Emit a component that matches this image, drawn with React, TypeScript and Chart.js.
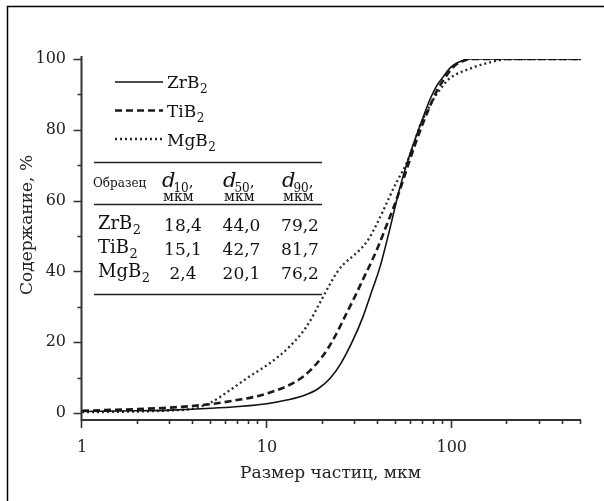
import React, { useEffect, useRef } from "react";
import { Chart, registerables } from "chart.js";

Chart.register(...registerables);

const FONT = '"DejaVu Serif", serif';

// Particle size, µm (x) and cumulative content, % (y)
const zrSizes = [1, 2, 3, 5, 7, 10, 13, 16, 19, 22, 25, 29, 33, 37, 41, 46, 52, 58, 64, 70, 76, 83, 90, 98, 106, 115, 125, 200, 300, 500];
const zrValues = [0.4, 0.6, 0.8, 1.3, 1.8, 2.6, 3.7, 5.0, 6.9, 9.8, 13.8, 20.2, 27.0, 34.5, 41.4, 51.5, 63.0, 71.5, 78.0, 83.5, 88.4, 92.5, 95.0, 97.5, 98.8, 99.6, 100, 100, 100, 100];

const tiSizes = [1, 2, 3, 5, 7, 9, 11, 13, 15, 17, 20, 23, 27, 30, 33, 37, 40, 44, 48, 52, 58, 64, 70, 76, 83, 90, 98, 106, 115, 125, 200, 300, 500];
const tiValues = [0.6, 1.1, 1.5, 2.5, 3.7, 4.8, 6.2, 7.7, 9.5, 11.8, 16.0, 21.0, 28.2, 33.0, 37.6, 43.0, 47.0, 52.5, 57.5, 62.5, 70.0, 76.5, 82.0, 86.5, 91.0, 94.0, 96.7, 98.5, 99.4, 100, 100, 100, 100];

const mgSizes = [1, 2, 3, 4, 5, 6.3, 8, 10.4, 13.3, 16.4, 19.3, 22, 24, 26, 29, 32, 35, 38, 42, 46, 51, 57, 62, 67, 73, 79, 86, 94, 105, 120, 137, 154, 175, 200, 300, 500];
const mgValues = [0.2, 0.4, 0.7, 1.2, 3.0, 6.4, 10.2, 14.1, 18.8, 24.4, 31.0, 36.5, 39.8, 42.0, 44.2, 46.2, 48.6, 51.9, 56.5, 61.0, 65.8, 70.6, 75.5, 80.9, 85.0, 88.4, 91.2, 93.8, 95.6, 96.9, 98.0, 98.8, 99.5, 100, 100, 100];

const xLabelTicks = [1, 10, 100];
const xMinorTicks = [2, 3, 4, 5, 6, 7, 8, 9, 20, 30, 40, 50, 60, 70, 80, 90, 200, 300, 400, 500];
const yLabelTicks = [0, 20, 40, 60, 80, 100];
const yMinorTicks = [10, 30, 50, 70, 90];

const seriesBase = ["ZrB", "TiB", "MgB"];
const seriesSub = ["2", "2", "2"];
const d10Values = ["18,4", "15,1", "2,4"];
const d50Values = ["44,0", "42,7", "20,1"];
const d90Values = ["79,2", "81,7", "76,2"];
const headerSubs = ["10", "50", "90"];

const xTitle = "Размер частиц, мкм";
const yTitle = "Содержание, %";
const sampleHeader = "Образец";
const unitText = "мкм";

const dashStyles: number[][] = [[], [7, 4], [2, 3]];
const widths = [1.6, 2.6, 2.3];
const colors = ["#111", "#1a1a1a", "#2a2a2a"];

function toPoints(xs: number[], ys: number[]) {
  return xs.map((x, i) => ({ x, y: ys[i] }));
}

function drawSub(ctx: CanvasRenderingContext2D, x: number, y: number, base: string, sub: string, size: number, subSize: number, shift: number) {
  ctx.font = `${size}px ${FONT}`;
  ctx.textAlign = "left";
  ctx.textBaseline = "alphabetic";
  ctx.fillText(base, x, y);
  const w = ctx.measureText(base).width;
  ctx.font = `${subSize}px ${FONT}`;
  ctx.fillText(sub, x + w + 0.5, y + shift);
  return w + 0.5 + ctx.measureText(sub).width;
}

const decor = {
  id: "decor",
  beforeDraw(chart: any) {
    const ctx = chart.ctx;
    ctx.save();
    ctx.fillStyle = "#fff";
    ctx.fillRect(0, 0, chart.width, chart.height);
    ctx.restore();
  },
  afterDraw(chart: any) {
    const ctx: CanvasRenderingContext2D = chart.ctx;
    const { left, right, top, bottom } = chart.chartArea;
    const xs = chart.scales.x;
    const ys = chart.scales.y;
    ctx.save();
    // outer frame (top and left edges visible)
    ctx.strokeStyle = "#000";
    ctx.lineWidth = 1.5;
    ctx.beginPath();
    ctx.moveTo(7.5, chart.height);
    ctx.lineTo(7.5, 6.5);
    ctx.lineTo(chart.width, 6.5);
    ctx.stroke();

    // axes
    ctx.strokeStyle = "#333";
    ctx.lineWidth = 2;
    const ax = left - 0.5;
    ctx.beginPath();
    ctx.moveTo(ax, top - 3);
    ctx.lineTo(ax, bottom);
    ctx.lineTo(right, bottom);
    ctx.stroke();
    ctx.lineWidth = 1.6;
    ctx.beginPath();
    yLabelTicks.forEach((v) => {
      const py = Math.round(ys.getPixelForValue(v)) + 0.5;
      ctx.moveTo(ax - 8, py);
      ctx.lineTo(ax, py);
    });
    yMinorTicks.forEach((v) => {
      const py = Math.round(ys.getPixelForValue(v)) + 0.5;
      ctx.moveTo(ax - 4, py);
      ctx.lineTo(ax, py);
    });
    xLabelTicks.forEach((v) => {
      const px = Math.round(xs.getPixelForValue(v)) - 0.5;
      ctx.moveTo(px, bottom);
      ctx.lineTo(px, bottom + 8);
    });
    xMinorTicks.forEach((v) => {
      const px = Math.round(xs.getPixelForValue(v)) - 0.5;
      ctx.moveTo(px, bottom);
      ctx.lineTo(px, bottom + 4);
    });
    ctx.stroke();

    // axis titles
    ctx.fillStyle = "#222";
    ctx.font = `17px ${FONT}`;
    ctx.textAlign = "center";
    ctx.textBaseline = "alphabetic";
    ctx.fillText(xTitle, (left + right) / 2 - 1, 478);
    ctx.save();
    ctx.translate(32, 225);
    ctx.rotate(-Math.PI / 2);
    ctx.fillText(yTitle, 0, 0);
    ctx.restore();

    // legend
    const legendY = [82, 110.5, 139];
    const legendBase = [88, 117, 146];
    legendY.forEach((ly, i) => {
      ctx.save();
      ctx.strokeStyle = colors[i];
      ctx.lineWidth = widths[i];
      ctx.setLineDash(dashStyles[i]);
      ctx.beginPath();
      ctx.moveTo(115, ly);
      ctx.lineTo(163, ly);
      ctx.stroke();
      ctx.restore();
      ctx.fillStyle = "#111";
      drawSub(ctx, 167, legendBase[i], seriesBase[i], seriesSub[i], 17, 12, 5);
    });

    // table
    ctx.strokeStyle = "#222";
    ctx.lineWidth = 1.3;
    ctx.beginPath();
    [162.5, 204.5, 294.5].forEach((ly) => {
      ctx.moveTo(94, ly);
      ctx.lineTo(322, ly);
    });
    ctx.stroke();

    ctx.fillStyle = "#111";
    ctx.font = `12px ${FONT}`;
    ctx.textAlign = "left";
    ctx.fillText(sampleHeader, 93, 187);
    const headX = [162, 223, 282];
    headX.forEach((hx, i) => {
      ctx.font = `italic 21px ${FONT}`;
      ctx.textAlign = "left";
      ctx.fillText("d", hx, 187);
      const dw = ctx.measureText("d").width;
      ctx.font = `12px ${FONT}`;
      ctx.fillText(headerSubs[i], hx + dw - 2, 192);
      const sw = ctx.measureText(headerSubs[i]).width;
      ctx.font = `15px ${FONT}`;
      ctx.fillText(",", hx + dw - 2 + sw, 187);
      ctx.font = `14px ${FONT}`;
      ctx.fillText(unitText, hx + 1, 201);
    });

    const rowBase = [229, 253, 277];
    const colCenters = [183, 241.5, 300];
    rowBase.forEach((by, i) => {
      ctx.fillStyle = "#111";
      drawSub(ctx, 98, by, seriesBase[i], seriesSub[i], 18, 13, 5);
      ctx.font = `17px ${FONT}`;
      ctx.textAlign = "center";
      ctx.fillText(d10Values[i], colCenters[0], by + 2);
      ctx.fillText(d50Values[i], colCenters[1], by + 2);
      ctx.fillText(d90Values[i], colCenters[2], by + 2);
    });
    ctx.restore();
  },
};

export default function App() {
  const ref = useRef<HTMLCanvasElement | null>(null);

  useEffect(() => {
    document.body.style.margin = "0";
    const canvas = ref.current;
    if (!canvas) return;
    const chart = new Chart(canvas, {
      type: "line",
      data: {
        datasets: [
          { label: "ZrB2", data: toPoints(zrSizes, zrValues) },
          { label: "TiB2", data: toPoints(tiSizes, tiValues) },
          { label: "MgB2", data: toPoints(mgSizes, mgValues) },
        ].map((d, i) => ({
          ...d,
          borderColor: colors[i],
          borderWidth: widths[i],
          borderDash: dashStyles[i],
          pointRadius: 0,
          fill: false,
          cubicInterpolationMode: "monotone" as const,
        })),
      },
      options: {
        animation: false,
        responsive: false,
        devicePixelRatio: 1,
        layout: { padding: { left: 0, right: 23, top: 59, bottom: 0 } },
        plugins: { legend: { display: false }, tooltip: { enabled: false } },
        scales: {
          x: {
            type: "logarithmic",
            min: 1,
            max: 500,
            grid: { display: false },
            border: { display: false },
            afterBuildTicks: (scale: any) => {
              scale.ticks = xLabelTicks.map((v) => ({ value: v }));
            },
            afterFit: (scale: any) => {
              scale.height = 81;
            },
            ticks: {
              autoSkip: false,
              maxRotation: 0,
              padding: 10,
              color: "#222",
              font: { family: FONT, size: 16 },
              callback: (v: any) => String(v),
            },
          },
          y: {
            type: "linear",
            min: -2,
            max: 100,
            grid: { display: false },
            border: { display: false },
            afterBuildTicks: (scale: any) => {
              scale.ticks = yLabelTicks.map((v) => ({ value: v }));
            },
            afterFit: (scale: any) => {
              scale.width = 82;
            },
            ticks: {
              padding: 8,
              color: "#222",
              font: { family: FONT, size: 16 },
              callback: (v: any) => String(v),
            },
          },
        },
      },
      plugins: [decor],
    });
    return () => chart.destroy();
  }, []);

  return (
    <div style={{ width: 604, height: 501 }}>
      <canvas ref={ref} width={604} height={501} style={{ display: "block" }} />
    </div>
  );
}
